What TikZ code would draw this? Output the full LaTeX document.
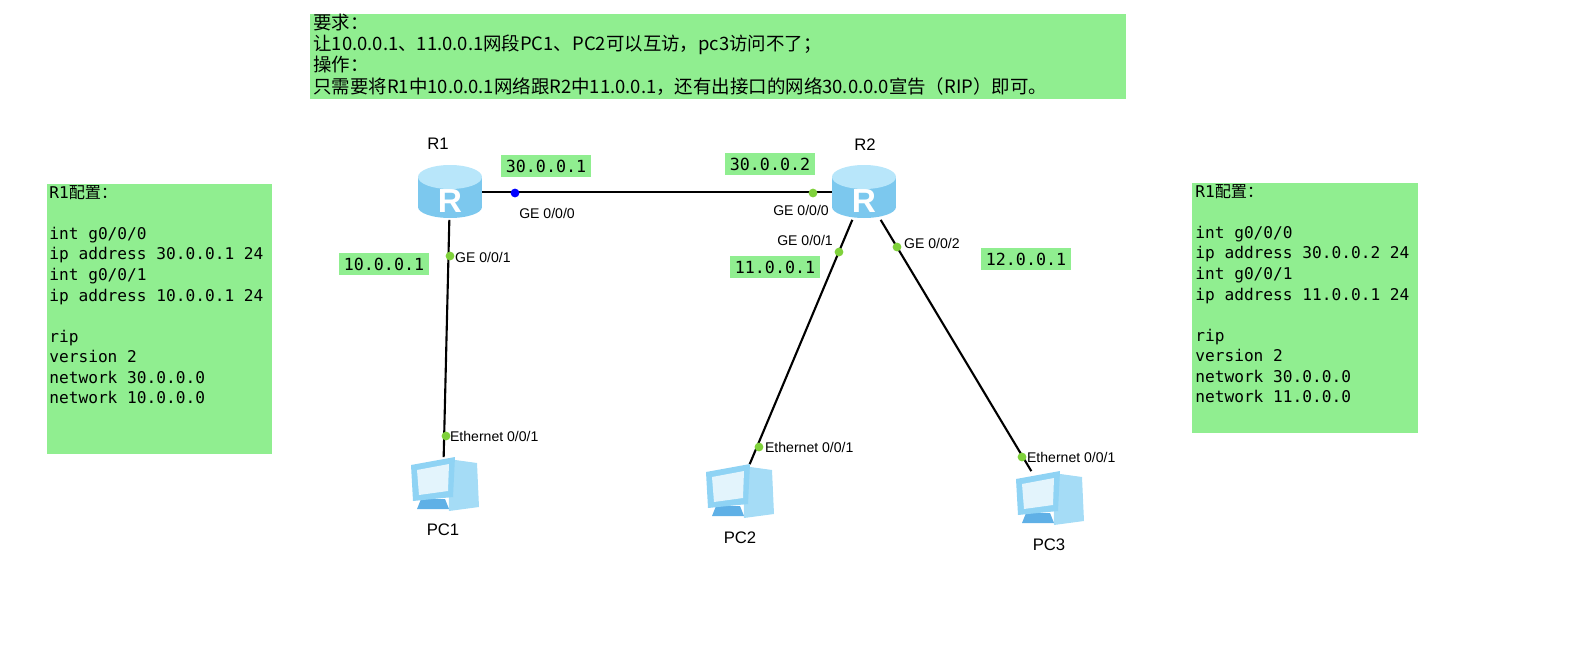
\documentclass[tikz,border=0pt]{standalone}
\usepackage{fontspec}
\setmainfont{Liberation Sans}
\setmonofont{DejaVu Sans Mono}
\newfontfamily\cjk{Noto Sans CJK SC}
\usetikzlibrary{positioning}
\definecolor{notegreen}{HTML}{90EE90}
\definecolor{linkgreen}{HTML}{7FD13B}
\definecolor{rtrbody}{HTML}{7CC8EE}
\definecolor{rtrtop}{HTML}{B8E6FA}
\definecolor{pcblue}{HTML}{8FD3F4}
\definecolor{pcdark}{HTML}{5FB0E6}
\tikzset{
  iplabel/.style={fill=notegreen, inner xsep=3pt, inner ysep=2.5pt, font=\ttfamily\fontsize{9.5}{11}\selectfont},
  portlabel/.style={font=\fontsize{8}{9}\selectfont, inner sep=1pt},
  devlabel/.style={font=\fontsize{9.5}{10}\selectfont},
  link/.style={line width=1.2pt},
  port/.style={circle, fill=linkgreen, inner sep=0pt, minimum size=5pt},
}
\newcommand{\routericon}[1]{%
  \begin{scope}[shift={(#1)}]
    \fill[rtrbody] (-32,-15) rectangle (32,15);
    \fill[rtrbody] (0,15) ellipse (32 and 11);
    \fill[rtrtop] (0,-15) ellipse (32 and 12);
    \node[text=white, font=\bfseries\fontsize{19}{19}\selectfont] at (0,9) {R};
  \end{scope}}
\newcommand{\pcicon}[1]{%
  \begin{scope}[shift={(#1)}]
    \fill[pcblue!80] (5,-26) -- (34,-22) -- (36,22) -- (6,26) -- cycle;
    \fill[pcdark] (-22,14) -- (2,14) -- (6,24) -- (-26,24) -- cycle;
    \fill[pcblue] (-32,-20) -- (12,-28) -- (10,12) -- (-30,16) -- cycle;
    \fill[white!75!pcblue] (-26,-15) -- (6,-21) -- (5,6) -- (-24,10) -- cycle;
  \end{scope}}
\begin{document}
\begin{tikzpicture}[x=0.02cm, y=-0.02cm]
    \useasboundingbox (0,0) rectangle (1576,652);

    % notes
    \fill[notegreen] (310,14) rectangle (1126,99);
    \node[anchor=north west, align=left, inner sep=0pt, font=\cjk\fontsize{10.5}{12}\selectfont]
      (task) at (313,14) {要求：\\让10.0.0.1、11.0.0.1网段PC1、PC2可以互访，pc3访问不了；\\操作：\\只需要将R1中10.0.0.1网络跟R2中11.0.0.1，还有出接口的网络30.0.0.0宣告（RIP）即可。};
    \fill[notegreen] (47,184) rectangle (272,454);
    \node[anchor=north west, align=left, inner sep=0pt, font=\ttfamily\fontsize{9.2}{11.7}\selectfont]
      (cfg1) at (49,185) {R1{\cjk 配置：}\\ \\int g0/0/0\\ip address 30.0.0.1 24\\int g0/0/1\\ip address 10.0.0.1 24\\ \\rip\\version 2\\network 30.0.0.0\\network 10.0.0.0};
    \fill[notegreen] (1192,183) rectangle (1418,433);
    \node[anchor=north west, align=left, inner sep=0pt, font=\ttfamily\fontsize{9.2}{11.7}\selectfont]
      (cfg2) at (1195,184) {R1{\cjk 配置：}\\ \\int g0/0/0\\ip address 30.0.0.2 24\\int g0/0/1\\ip address 11.0.0.1 24\\ \\rip\\version 2\\network 30.0.0.0\\network 11.0.0.0};

    % devices
    \node[minimum width=1.28cm, minimum height=1.1cm, inner sep=0pt] (R1) at (450,192) {};
    \node[minimum width=1.28cm, minimum height=1.1cm, inner sep=0pt] (R2) at (864,192) {};
    \node[minimum width=1.3cm, minimum height=1.1cm, inner sep=0pt] (PC1) at (443,485) {};
    \node[minimum width=1.3cm, minimum height=1.1cm, inner sep=0pt] (PC2) at (738,492) {};
    \node[minimum width=1.3cm, minimum height=1.1cm, inner sep=0pt] (PC3) at (1048,499) {};

    % links
    \draw[link] (R1.east) -- (R2.west);
    \draw[link] (R1) -- (PC1);
    \draw[link] (R2) -- (PC2);
    \draw[link] (R2) -- (PC3);

    \routericon{R1}
    \routericon{R2}
    \pcicon{PC1}
    \pcicon{PC2}
    \pcicon{PC3}

    \node[devlabel] (r1name) at (438,144) {R1};
    \node[devlabel] (r2name) at (865,145) {R2};
    \node[devlabel] (pc1name) at (443,530) {PC1};
    \node[devlabel] (pc2name) at (740,538) {PC2};
    \node[devlabel] (pc3name) at (1049,545) {PC3};

    % ports
    \node[port, fill=blue] (p1) at (515,193) {};
    \node[port] (p2) at (813,193) {};
    \node[port] (p3) at (450,256) {};
    \node[port] (p4) at (446,436) {};
    \node[port] (p5) at (839,252) {};
    \node[port] (p6) at (759,447) {};
    \node[port] (p7) at (897,247) {};
    \node[port] (p8) at (1022,457) {};
    \node[portlabel] at (547,213) {GE 0/0/0};
    \node[portlabel] at (801,210) {GE 0/0/0};
    \node[portlabel] at (805,240) {GE 0/0/1};
    \node[portlabel, anchor=west] at (902,243) {GE 0/0/2};
    \node[portlabel, anchor=west] at (453,257) {GE 0/0/1};
    \node[portlabel, anchor=west] at (448,436) {Ethernet 0/0/1};
    \node[portlabel, anchor=west] at (763,447) {Ethernet 0/0/1};
    \node[portlabel, anchor=west] at (1025,457) {Ethernet 0/0/1};

    % addresses
    \node[iplabel] (a1) at (546,166) {30.0.0.1};
    \node[iplabel] (a2) at (770,164) {30.0.0.2};
    \node[iplabel] (a3) at (384,264) {10.0.0.1};
    \node[iplabel] (a4) at (775,267) {11.0.0.1};
    \node[iplabel] (a5) at (1026,259) {12.0.0.1};
\end{tikzpicture}
\end{document}
